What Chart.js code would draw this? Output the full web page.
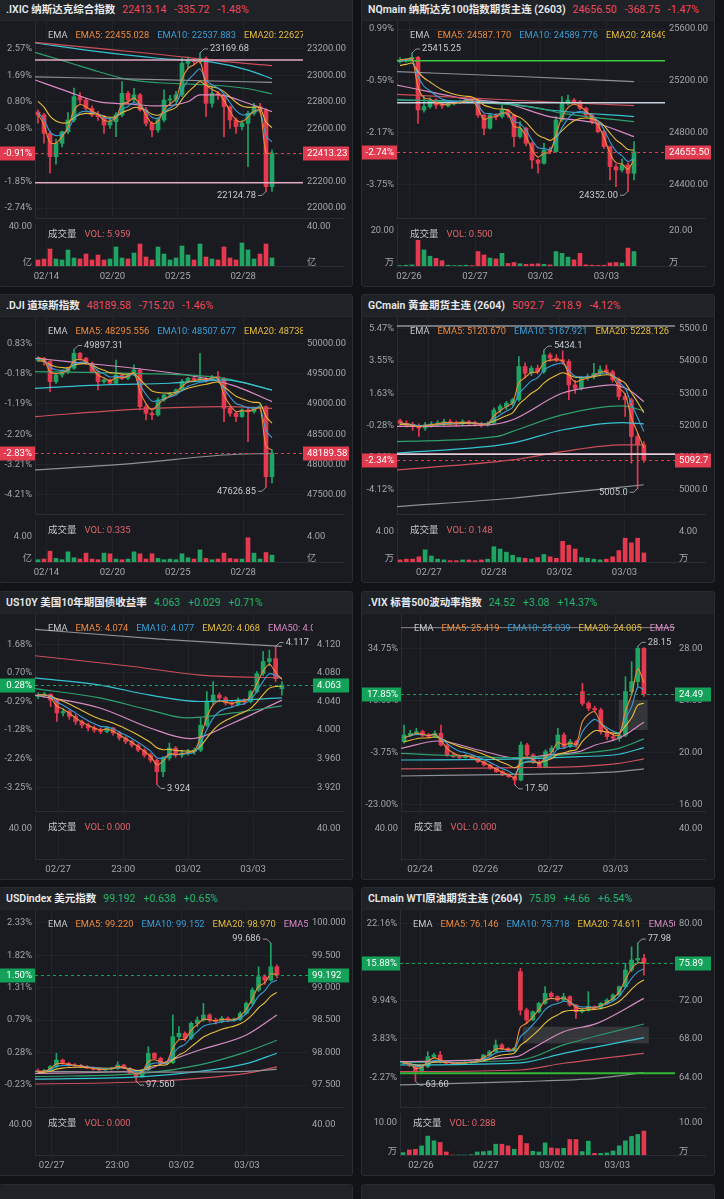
<!DOCTYPE html>
<html lang="zh">
<head>
<meta charset="utf-8">
<title>行情面板</title>
<script src="https://cdn.jsdelivr.net/npm/chart.js@4.4.1/dist/chart.umd.min.js"></script>
<style>
  html, body { margin:0; padding:0; }
  body { width:724px; height:1199px; overflow:hidden; background:#111317; position:relative;
         font-family: Roboto, "Noto Sans CJK SC", "Noto Sans", sans-serif; }
  .panel { position:absolute; width:354px; height:289px; box-sizing:border-box; border:1px solid #292c33;
           border-radius:3px; background:#191b20; overflow:hidden; }
  .hdr { position:absolute; left:0; top:0; width:100%; height:22px; background:#1f2227; border-bottom:1px solid #24272d;
         box-sizing:border-box; padding-left:6px; font-size:10.5px; line-height:21px; white-space:nowrap; color:#e8eaed; }
  .hdr .nm { font-weight:600; margin-right:7px; }
  .hdr .v { margin-right:8px; }
  .leg { position:absolute; top:29px; height:13px; font-size:9.3px; line-height:13px; white-space:nowrap; overflow:hidden; z-index:2; }
  .leg span { margin-right:8px; }
  .vol { position:absolute; top:228px; font-size:9.5px; line-height:13px; white-space:nowrap; z-index:2; }
  .vol span { margin-right:8px; }
  canvas { position:absolute; left:0; }
</style>
</head>
<body>
<script>
// ======================= DATA =======================
// ---- .IXIC ----
const ixicOpen  = [22725,22702,22563,22387,22488,22576,22664,22840,22815,22752,22702,22689,22626,22651,22702,22865,22815,22853,22740,22639,22589,22664,22815,22820,22853,23092,23117,23104,23130,22790,22865,22853,22765,22664,22614,22639,22714,22765,22740,22161];
const ixicHigh  = [22740,22714,22580,22520,22580,22720,22905,22870,22830,22770,22730,22700,22680,22720,22953,22880,22903,22865,22760,22650,22680,22891,22850,22880,23130,23140,23130,23169.68,23140,22916,22880,22860,22770,22680,22660,22730,22790,22790,22750,22438];
const ixicLow   = [22640,22490,22262,22330,22460,22560,22650,22790,22740,22690,22660,22563,22600,22538,22690,22790,22800,22730,22620,22538,22570,22650,22780,22800,22840,23050,23080,23090,22689,22760,22820,22538,22600,22563,22590,22312,22700,22720,22124.78,22125];
const ixicClose = [22702,22563,22387,22488,22576,22664,22840,22815,22752,22702,22689,22626,22651,22702,22865,22815,22853,22740,22639,22589,22664,22815,22820,22853,23092,23117,23104,23130,22790,22865,22853,22765,22664,22614,22639,22714,22765,22740,22161,22413.23];
const ixicVol   = [7,8,18,8,7,17,9,8,13,7,12,7,8,20,9,8,14,23,10,7,20,13,7,9,21,12,7,23,10,8,7,20,9,7,24,17,8,13,23,9];
const ixicDates = ['02/14','02/20','02/25','02/28'];
const ixicDatePos = [1.4,12.4,23.3,34.2];
const ixicPriceTicks = [22000,22200,22400,22600,22800,23000,23200];
const ixicPctTicks = ['-2.74%','-1.85%','-0.97%','-0.08%','0.80%','1.69%','2.57%'];
const ixicEmaStart = [22714,22727,22828];
const ixicPinkLine  = [[-0.5,22966],[5,22878],[10,22802],[15,22785],[20,22770],[25,22802],[27,22853],[30,22853],[35,22790],[39,22727]];
const ixicGreenLine = [[-0.5,23175],[5,23100],[10,23030],[15,22970],[20,22945],[28,22930],[35,22900],[39,22860]];
const ixicCyanLine  = [[-0.5,23245],[10,23180],[20,23130],[29,23100],[35,23040],[39,22975]];
const ixicRedLine   = [[-0.5,23250],[10,23205],[20,23160],[30,23110],[39,23075]];
const ixicGrayLine  = [[-0.5,22990],[20,22968],[39,22948]];
const ixicAlertLines = [23117,22191];

// ---- NQmain ----
const nqOpen  = [25349,25362,25367,25382,24977,25003,25054,25015,25008,25023,25033,25041,25059,25054,24938,24836,24938,24926,24977,24938,24772,24836,24721,24592,24567,24669,24656,24900,25028,25054,25041,24990,24938,24887,24810,24695,24541,24515,24554,24490];
const nqHigh  = [25380,25375,25415.25,25390,25080,25070,25065,25030,25035,25040,25050,25070,25065,25060,24945,24945,24950,25015,24985,24945,24887,24845,24730,24600,24721,24690,24926,25080,25092,25065,25050,25000,24950,24895,24820,24700,24560,24600,24570,24733];
const nqLow   = [25340,25345,25355,24874,24960,24990,24990,24990,25000,25015,25025,25035,25040,24920,24785,24830,24900,24915,24920,24695,24760,24700,24528,24490,24560,24640,24650,24890,25015,25030,24980,24920,24870,24800,24680,24438,24387,24500,24352,24438];
const nqClose = [25362,25367,25382,24977,25003,25054,25015,25008,25023,25033,25041,25059,25054,24938,24836,24938,24926,24977,24938,24772,24836,24721,24592,24567,24669,24656,24900,25028,25054,25041,24990,24938,24887,24810,24695,24541,24515,24554,24490,24655.5];
const nqVol   = [0.8,1.0,1.2,14.9,9.5,6.0,4.8,3.5,1.0,0.8,0.9,1.0,0.8,8.6,6.7,5.0,4.5,7.6,2.0,2.5,1.8,1.5,1.6,1.8,1.5,1.2,8.6,7.6,5.5,4.0,7.6,1.2,1.0,0.9,1.0,2.3,2.5,2.2,10.5,8.6];
const nqDates = ['02/26','02/27','03/02','03/03'];
const nqDatePos = [1.5,12.5,23.4,34.4];
const nqPriceTicks = [24400,24800,25200,25600];
const nqPctTicks = ['-3.75%','-2.17%','-0.59%','0.99%'];
const nqEmaStart = [25367,25349,25310];
const nqGrayLine  = [[-0.5,25272],[20,25235],[39,25195]];
const nqRedLine   = [[-0.5,25097],[20,25050],[39,25010]];
const nqPinkLine  = [[-0.5,25169],[4.8,25118],[10.4,25067],[17.7,25028],[24.9,24926],[32.7,24875],[39,24772]];
const nqCyanLine  = [[-0.5,25054],[17.7,25028],[24.9,24977],[39,24926]];
const nqGreenLine = [[-0.5,25059],[21.6,25003],[27.2,24951],[39,24887]];
const nqAlertLines = [25356,25033];

// ---- .DJI ----
const djiOpen  = [49720,49753,49698,49368,49478,49533,49588,49835,49753,49670,49533,49368,49396,49341,49478,49423,49478,49560,48956,48846,48819,49066,49148,49176,49231,49368,49423,49396,49423,49396,49451,49423,48928,48846,48791,48901,48874,48928,48956,47802];
const djiHigh  = [49780,49770,49710,49500,49540,49600,49897.31,49850,49770,49690,49550,49420,49410,49725,49500,49500,49643,49580,48990,48880,49100,49160,49190,49250,49400,49440,49450,49835,49440,49470,49533,49440,48960,48880,48920,48930,48950,48990,48970,48242];
const djiLow   = [49700,49640,49203,49340,49440,49500,49570,49720,49650,49510,49231,49340,49320,49330,49400,49400,49460,48901,48736,48740,48800,49040,49120,49150,49210,49350,49370,49380,49360,49380,49410,48709,48800,48709,48780,48379,48850,48920,47626.85,47700];
const djiClose = [49753,49698,49368,49478,49533,49588,49835,49753,49670,49533,49368,49396,49341,49478,49423,49478,49560,48956,48846,48819,49066,49148,49176,49231,49368,49423,49396,49423,49396,49451,49423,48928,48846,48791,48901,48874,48928,48956,47802,48189.58];
const djiVol   = [0.5,0.6,1.8,0.7,0.5,1.7,0.8,0.6,1.5,0.6,0.5,1.5,1.4,0.6,0.5,0.6,1.7,1.4,0.6,1.4,0.7,0.5,0.6,0.5,1.4,0.8,0.6,2.0,0.7,0.5,0.6,1.5,0.7,0.6,0.6,3.85,1.5,0.6,1.6,1.2];
const djiDates = ['02/14','02/20','02/25','02/28'];
const djiDatePos = [1.4,12.4,23.3,34.2];
const djiPriceTicks = [47500,48000,48500,49000,49500,50000];
const djiPctTicks = ['-4.21%','-3.21%','-2.20%','-1.19%','-0.18%','0.83%'];
const djiEmaStart = [49780,49725,49698];
const djiPinkLine  = [[-0.5,49753],[5,49698],[16,49588],[27,49440],[33,49290],[39,49038]];
const djiGreenLine = [[-0.5,49533],[16,49505],[31,49423],[39,49231]];
const djiCyanLine  = [[-0.5,49258],[11,49313],[22,49341],[31,49396],[39,49231]];
const djiRedLine   = [[-0.5,48791],[16,48912],[31,48956],[39,48928]];
const djiGrayLine  = [[-0.5,47912],[16,48022],[31,48159],[39,48187]];

// ---- GCmain ----
const gcOpen  = [5215,5207,5202,5197,5192,5202,5205,5207,5212,5209,5207,5212,5209,5205,5202,5207,5248,5259,5269,5280,5383,5362,5378,5367,5419,5409,5404,5399,5326,5316,5347,5352,5362,5373,5367,5342,5290,5280,5166,5140];
const gcHigh  = [5220,5215,5210,5205,5210,5212,5215,5220,5218,5214,5218,5216,5214,5210,5212,5255,5265,5275,5285,5414,5395,5385,5388,5434.1,5425,5420,5432,5405,5340,5350,5360,5393,5385,5388,5372,5348,5300,5285,5175,5150];
const gcLow   = [5200,5195,5185,5166,5185,5195,5198,5200,5202,5198,5202,5203,5198,5195,5198,5204,5240,5250,5262,5275,5350,5355,5360,5362,5400,5398,5390,5280,5300,5310,5340,5345,5355,5360,5335,5280,5228,5083,5005.0,5085];
const gcClose = [5207,5202,5197,5192,5202,5205,5207,5212,5209,5207,5212,5209,5205,5202,5207,5248,5259,5269,5280,5383,5362,5378,5367,5419,5409,5404,5399,5326,5316,5347,5352,5362,5373,5367,5342,5290,5280,5166,5140,5092.7];
const gcVol   = [0.4,0.5,0.5,0.8,1.7,0.9,0.5,0.4,0.3,0.3,0.4,0.4,0.3,0.4,0.5,2.1,1.8,1.4,1.0,0.7,0.6,0.5,0.7,1.1,0.8,0.6,2.8,2.3,1.8,0.7,0.6,0.5,0.4,0.5,0.8,1.6,3.2,2.6,3.2,1.3];
const gcDates = ['02/27','02/28','03/02','03/03'];
const gcDatePos = [4.6,15.0,25.5,35.9];
const gcPriceTicks = [5000,5100,5200,5300,5400,5500];
const gcPctTicks = ['-4.12%','-2.20%','-0.28%','1.63%','3.55%','5.47%'];
const gcEmaStart = [5212,5207,5202];
const gcPinkLine  = [[-0.5,5197],[14.2,5202],[17.9,5217],[25.9,5300],[31.2,5321],[33.9,5326],[36.6,5310],[39,5274]];
const gcGreenLine = [[-0.5,5150],[15.6,5166],[17.9,5181],[25.9,5233],[35.5,5261],[39,5246]];
const gcCyanLine  = [[-0.5,5114],[17.9,5145],[25.9,5186],[35.5,5209],[39,5205]];
const gcRedLine   = [[-0.5,5062],[17.9,5093],[25.9,5119],[35.5,5140],[39,5140]];
const gcGrayLine  = [[-0.5,4948],[17.9,4974],[25.9,4990],[39,5016]];
const gcAlertLines = [5509,5111];

// ---- US10Y ----
const usyOpen  = [4.047,4.049,4.050,4.042,4.024,4.026,4.019,4.012,4.007,4.003,4.000,3.998,4.003,3.996,3.989,3.984,3.979,3.972,3.965,3.958,3.942,3.961,3.975,3.965,3.968,3.970,3.972,4.007,4.040,4.049,4.045,4.038,4.036,4.042,4.040,4.054,4.079,4.096,4.100,4.058];
const usyHigh  = [4.052,4.053,4.051,4.044,4.030,4.028,4.022,4.014,4.010,4.006,4.003,4.005,4.004,3.998,3.991,3.986,3.981,3.974,3.968,3.960,3.963,3.982,3.977,3.972,3.973,3.975,4.017,4.054,4.068,4.052,4.047,4.040,4.045,4.044,4.056,4.082,4.110,4.112,4.117,4.068];
const usyLow   = [4.044,4.046,4.033,4.012,4.020,4.015,4.008,4.003,3.999,3.997,3.995,3.996,3.993,3.986,3.981,3.976,3.970,3.962,3.955,3.924,3.935,3.958,3.962,3.962,3.965,3.966,3.970,4.005,4.036,4.040,4.035,4.032,4.034,4.036,4.038,4.052,4.076,4.090,4.068,4.049];
const usyClose = [4.049,4.050,4.042,4.024,4.026,4.019,4.012,4.007,4.003,4.000,3.998,4.003,3.996,3.989,3.984,3.979,3.972,3.965,3.958,3.942,3.961,3.975,3.965,3.968,3.970,3.972,4.007,4.040,4.049,4.045,4.038,4.036,4.042,4.040,4.054,4.079,4.096,4.100,4.072,4.063];
const usyVol   = [];
const usyDates = ['02/27','23:00','03/02','03/03'];
const usyDatePos = [3.2,13.6,24.0,34.4];
const usyPriceTicks = [3.92,3.96,4.00,4.04,4.08,4.12];
const usyPctTicks = ['-3.25%','-2.26%','-1.28%','-0.29%','0.70%','1.68%'];
const usyEmaStart = [4.049,4.049,4.049];
const usyGrayLine  = [[-0.5,4.141],[20,4.127],[39,4.117]];
const usyRedLine   = [[-0.5,4.104],[15.2,4.089],[25.9,4.077],[39,4.073]];
const usyCyanLine  = [[-0.5,4.073],[9.9,4.063],[17.9,4.049],[25.9,4.040],[39,4.045]];
const usyGreenLine = [[-0.5,4.058],[9.9,4.045],[17.9,4.028],[23.8,4.017],[31.2,4.024],[39,4.034]];
const usyPinkLine  = [[-0.5,4.049],[9.9,4.031],[17.9,4.003],[24.3,3.988],[31.2,4.010],[39,4.042]];

// ---- .VIX ----
const vixOpen  = [20.82,21.33,21.46,21.59,21.33,21.21,21.46,20.56,19.80,19.67,19.59,19.74,19.54,19.28,19.03,18.77,18.51,18.26,18.13,17.87,20.56,19.80,19.28,18.90,20.05,20.31,21.33,20.44,20.82,24.67,23.77,23.38,23.26,21.59,21.21,21.08,21.33,24.67,25.44,28.00];
const vixHigh  = [22.10,21.70,21.85,21.70,21.45,21.65,22.10,20.65,19.95,19.80,19.85,19.80,19.60,19.35,19.10,18.85,18.60,18.35,18.20,20.80,20.70,19.90,19.40,20.20,20.50,21.85,21.50,21.00,20.95,25.31,23.90,23.55,23.40,21.80,21.40,21.50,25.82,26.97,28.15,28.05];
const vixLow   = [20.70,21.20,21.35,21.20,21.10,21.15,20.50,19.70,19.60,19.50,19.55,19.45,19.20,18.95,18.70,18.45,18.20,18.05,17.50,17.80,19.70,19.15,18.80,18.85,19.90,20.20,20.30,20.35,20.40,23.60,23.20,23.10,21.40,21.00,20.90,20.85,21.20,24.40,25.05,24.30];
const vixClose = [21.33,21.46,21.59,21.33,21.21,21.46,20.56,19.80,19.67,19.59,19.74,19.54,19.28,19.03,18.77,18.51,18.26,18.13,17.87,20.56,19.80,19.28,18.90,20.05,20.31,21.33,20.44,20.82,20.56,23.77,23.38,23.26,21.59,21.21,21.08,21.33,24.67,25.44,28.00,24.49];
const vixVol   = [];
const vixDates = ['02/24','02/26','02/27','03/03'];
const vixDatePos = [2.6,13.2,23.8,34.4];
const vixPriceTicks = [16,20,24,28];
const vixPctTicks = ['-23.00%','-3.75%','15.50%','34.75%'];
const vixEmaStart = [20.82,21.08,20.69];
const vixPinkLine  = [[-0.5,20.31],[5.6,20.87],[12.1,20.18],[18.6,19.54],[23.5,19.80],[28.4,20.05],[31.1,20.56],[34.9,21.08],[39,22.31]];
const vixGreenLine = [[-0.5,19.92],[18.6,19.59],[28.4,19.92],[34.9,20.31],[39,21.03]];
const vixCyanLine  = [[-0.5,19.41],[18.6,19.49],[28.4,19.67],[34.9,19.85],[39,20.36]];
const vixRedLine   = [[-0.5,18.72],[18.6,18.82],[28.4,18.90],[34.9,19.15],[39,19.49]];
const vixGrayLine  = [[-0.5,18.18],[18.6,18.31],[28.4,18.38],[34.9,18.51],[39,18.72]];
const vixAlertLines = [29.59];
const vixZones = [[34.9,39.6,21.72,24.03]];

// ---- USDindex ----
const usdOpen  = [97.720,97.706,97.721,97.783,97.885,97.834,97.808,97.793,97.783,97.757,97.742,97.731,97.747,97.757,97.808,97.757,97.680,97.629,97.731,97.988,97.911,97.834,97.844,98.245,98.296,98.219,98.450,98.501,98.578,98.501,98.476,98.527,98.501,98.511,98.604,98.758,98.963,99.168,99.117,99.322];
const usdHigh  = [97.750,97.740,97.800,97.990,97.900,97.850,97.830,97.820,97.800,97.780,97.760,97.760,97.770,97.860,97.820,97.770,97.700,97.740,98.090,98.000,97.930,97.860,98.580,98.400,98.320,98.470,98.550,98.758,98.600,98.530,98.560,98.550,98.530,98.630,98.780,99.000,99.322,99.200,99.686,99.350];
const usdLow   = [97.690,97.690,97.710,97.770,97.820,97.790,97.780,97.770,97.750,97.730,97.720,97.720,97.730,97.740,97.750,97.670,97.560,97.620,97.720,97.900,97.830,97.820,97.830,98.200,98.180,98.200,98.400,98.480,98.470,98.440,98.460,98.480,98.480,98.490,98.590,98.740,98.940,99.050,99.100,99.150];
const usdClose = [97.706,97.721,97.783,97.885,97.834,97.808,97.793,97.783,97.757,97.742,97.731,97.747,97.757,97.808,97.757,97.680,97.629,97.731,97.988,97.911,97.834,97.844,98.245,98.296,98.219,98.450,98.501,98.578,98.501,98.476,98.527,98.501,98.511,98.604,98.758,98.963,99.168,99.117,99.322,99.192];
const usdVol   = [];
const usdDates = ['02/27','23:00','03/02','03/03'];
const usdDatePos = [2.2,12.9,23.4,34.1];
const usdPriceTicks = [97.5,98.0,98.5,99.0,99.5,100.0];
const usdPctTicks = ['-0.23%','0.28%','0.79%','1.31%','1.82%','2.33%'];
const usdEmaStart = [97.706,97.706,97.69];
const usdPinkLine  = [[-0.5,97.680],[17.2,97.731],[21,97.860],[26.4,98.04],[34,98.27],[39,98.578]];
const usdGreenLine = [[-0.5,97.63],[17.2,97.68],[26.4,97.81],[34,98.01],[39,98.19]];
const usdCyanLine  = [[-0.5,97.59],[17.2,97.63],[26.4,97.71],[34,97.83],[39,97.99]];
const usdGrayLine  = [[-0.5,97.71],[17.2,97.70],[34,97.71],[39,97.74]];
const usdRedLine   = [[-0.5,97.516],[17.2,97.55],[34,97.68],[39,97.78]];

// ---- CLmain ----
const clOpen  = [65.50,65.53,65.28,64.59,65.11,66.15,66.32,65.63,65.46,65.39,65.46,65.53,65.63,65.80,66.32,66.67,67.37,67.02,66.78,75.00,71.01,69.97,70.84,71.70,72.75,72.40,72.05,72.40,71.53,70.84,71.01,71.36,71.18,71.70,72.05,72.57,73.44,75.18,76.22,76.39];
const clHigh  = [65.70,65.60,65.35,65.20,66.67,66.50,66.67,65.70,65.55,65.55,65.60,65.70,65.90,66.40,66.80,67.89,67.50,67.10,67.10,75.35,71.20,70.90,71.80,73.44,72.90,72.50,72.75,72.50,71.60,71.20,72.92,71.45,71.80,72.20,72.70,73.50,75.87,77.60,77.98,76.80];
const clLow   = [65.35,65.10,63.60,64.40,65.00,66.00,65.50,65.35,65.30,65.35,65.40,65.45,65.55,65.75,66.25,66.60,66.90,66.70,66.70,70.50,69.62,69.90,70.70,71.60,72.30,71.90,71.95,71.40,70.14,70.70,70.90,71.05,71.10,71.60,71.95,72.45,73.30,75.00,75.90,74.65];
const clClose = [65.53,65.28,64.59,65.11,66.15,66.32,65.63,65.46,65.39,65.46,65.53,65.63,65.80,66.32,66.67,67.37,67.02,66.78,67.02,71.01,69.97,70.84,71.70,72.75,72.40,72.05,72.40,71.53,70.84,71.01,71.36,71.18,71.70,72.05,72.57,73.44,75.18,76.22,76.39,75.89];
const clVol   = [1.0,1.8,2.0,3.0,5.9,4.5,4.0,1.2,0.3,0.3,0.3,0.4,1.2,1.3,1.5,3.5,3.5,3.0,2.0,6.1,3.7,1.4,1.2,3.9,2.4,2.2,2.3,4.9,4.9,1.3,4.4,0.8,0.8,0.9,1.5,3.0,4.5,5.8,6.4,7.4];
const clDates = ['02/26','02/27','03/02','03/03'];
const clDatePos = [2.9,13.4,24.1,34.7];
const clPriceTicks = [64,68,72,76,80];
const clPctTicks = ['-2.27%','3.83%','9.94%','16.05%','22.16%'];
const clEmaStart = [65.63,65.53,65.46];
const clGrayLine  = [[-0.5,63.20],[18.9,63.55],[31.4,63.89],[39,64.48]];
const clRedLine   = [[-0.5,64.59],[18.9,64.76],[26,65.46],[39,66.50]];
const clCyanLine  = [[-0.5,65.28],[18.9,65.50],[26,66.50],[39,68.13]];
const clGreenLine = [[-0.5,65.53],[18.9,65.80],[26,67.37],[39,69.55]];
const clPinkLine  = [[-0.5,65.63],[18.4,66.15],[20.5,66.84],[26,68.75],[31.4,69.62],[39,72.22]];
const clAlertLines = [64.42];
const clZones = [[19.4,39.8,67.54,69.27]];

// ======================= STYLE =======================
const UP = '#1fa463', DOWN = '#e5394f';
const UP_TXT = '#25b46b', DOWN_TXT = '#f0485c';
const UP_BOX = '#14a15a', DOWN_BOX = '#e23a4f';
const C_EMA5 = '#f08a3a', C_EMA10 = '#3a9fd8', C_EMA20 = '#e6bd3b';
const C_PINK = '#d88bc3', C_GREEN = '#2e9f6d', C_CYAN = '#35c3d3', C_RED = '#c94f5b', C_GRAY = '#8d9096';
const TICK = '#a1a6ae';
const COMPRESS = 2;
const TICK_FONT = { size: 9.3 };

Chart.defaults.font.family = 'Roboto, "Noto Sans CJK SC", sans-serif';
Chart.defaults.font.size = 9.3;
Chart.defaults.color = TICK;

const ROW_TOP = [-2, 294, 591, 887, 1184];
const COL_LEFT = [-1, 361];

function ema(closes, period, seed) {
  const a = 1 - Math.pow(1 - 2 / (period + 1), COMPRESS);
  let e = seed;
  return closes.map(c => (e = e + a * (c - e)));
}

const panels = [
  { col:0, row:0, name:'.IXIC 纳斯达克综合指数', quote:['22413.14','-335.72','-1.48%'], up:false,
    legend:[['EMA5: 22455.028',C_EMA5],['EMA10: 22537.883',C_EMA10],['EMA20: 22627.',C_EMA20]],
    volText:'VOL: 5.959', open:ixicOpen, high:ixicHigh, low:ixicLow, close:ixicClose, volume:ixicVol,
    dates:ixicDates, datePos:ixicDatePos, ticks:ixicPriceTicks, pct:ixicPctTicks, pctNow:'-0.91%', dec:2,
    emaStart:ixicEmaStart,
    lines:[[ixicGrayLine,C_GRAY],[ixicRedLine,C_RED],[ixicCyanLine,C_CYAN],[ixicGreenLine,C_GREEN],[ixicPinkLine,C_PINK]],
    alerts:ixicAlertLines, alertStyle:[['#e3a8c2',1.6],['#e3a8c2',1.6]], zones:[],
    lw:35, rw:49, min:21917, max:23411, volMax:43, volTop:40, volTopLabel:'40.00', volUnit:'亿' },
  { col:1, row:0, name:'NQmain 纳斯达克100指数期货主连 (2603)', quote:['24656.50','-368.75','-1.47%'], up:false,
    legend:[['EMA5: 24587.170',C_EMA5],['EMA10: 24589.776',C_EMA10],['EMA20: 24649.9',C_EMA20]],
    volText:'VOL: 0.500', open:nqOpen, high:nqHigh, low:nqLow, close:nqClose, volume:nqVol,
    dates:nqDates, datePos:nqDatePos, ticks:nqPriceTicks, pct:nqPctTicks, pctNow:'-2.74%', dec:2,
    emaStart:nqEmaStart,
    lines:[[nqGrayLine,C_GRAY],[nqRedLine,C_RED],[nqGreenLine,C_GREEN],[nqCyanLine,C_CYAN],[nqPinkLine,C_PINK]],
    alerts:nqAlertLines, alertStyle:[['#3fcb3f',1.5],['#c7d1dd',1.6]], zones:[],
    lw:35, rw:49, min:24138, max:25662, volMax:23.9, volTop:20, volTopLabel:'20.00', volUnit:'万' },
  { col:0, row:1, name:'.DJI 道琼斯指数', quote:['48189.58','-715.20','-1.46%'], up:false,
    legend:[['EMA5: 48295.556',C_EMA5],['EMA10: 48507.677',C_EMA10],['EMA20: 48738.0',C_EMA20]],
    volText:'VOL: 0.335', open:djiOpen, high:djiHigh, low:djiLow, close:djiClose, volume:djiVol,
    dates:djiDates, datePos:djiDatePos, ticks:djiPriceTicks, pct:djiPctTicks, pctNow:'-2.83%', dec:2,
    emaStart:djiEmaStart,
    lines:[[djiGrayLine,C_GRAY],[djiRedLine,C_RED],[djiCyanLine,C_CYAN],[djiGreenLine,C_GREEN],[djiPinkLine,C_PINK]],
    alerts:[], alertStyle:[], zones:[],
    lw:35, rw:49, min:47170, max:50433, volMax:6.54, volTop:4, volTopLabel:'4.00', volUnit:'亿' },
  { col:1, row:1, name:'GCmain 黄金期货主连 (2604)', quote:['5092.7','-218.9','-4.12%'], up:false,
    legend:[['EMA5: 5120.670',C_EMA5],['EMA10: 5167.921',C_EMA10],['EMA20: 5228.126',C_EMA20],['E',C_PINK]],
    volText:'VOL: 0.148', open:gcOpen, high:gcHigh, low:gcLow, close:gcClose, volume:gcVol,
    dates:gcDates, datePos:gcDatePos, ticks:gcPriceTicks, pct:gcPctTicks, pctNow:'-2.34%', dec:1,
    emaStart:gcEmaStart,
    lines:[[gcGrayLine,C_GRAY],[gcRedLine,C_RED],[gcCyanLine,C_CYAN],[gcGreenLine,C_GREEN],[gcPinkLine,C_PINK]],
    alerts:gcAlertLines, alertStyle:[['#cfd1d6',1.2],['#e6cbd8',1.6]], zones:[],
    lw:35, rw:39, min:4922, max:5537, volMax:5.55, volTop:4, volTopLabel:'4.00', volUnit:'万' },
  { col:0, row:2, name:'US10Y 美国10年期国债收益率', quote:['4.063','+0.029','+0.71%'], up:true,
    legend:[['EMA5: 4.074',C_EMA5],['EMA10: 4.077',C_EMA10],['EMA20: 4.068',C_EMA20],['EMA50: 4.04',C_PINK]],
    volText:'VOL: 0.000', open:usyOpen, high:usyHigh, low:usyLow, close:usyClose, volume:usyVol,
    dates:usyDates, datePos:usyDatePos, ticks:usyPriceTicks, pct:usyPctTicks, pctNow:'0.28%', dec:3,
    emaStart:usyEmaStart,
    lines:[[usyGrayLine,C_GRAY],[usyRedLine,C_RED],[usyCyanLine,C_CYAN],[usyGreenLine,C_GREEN],[usyPinkLine,C_PINK]],
    alerts:[], alertStyle:[], zones:[],
    lw:35, rw:39, min:3.8855, max:4.1624, volMax:55.5, volTop:40, volTopLabel:'40.00', volUnit:'' },
  { col:1, row:2, name:'.VIX 标普500波动率指数', quote:['24.52','+3.08','+14.37%'], up:true,
    legend:[['EMA5: 25.419',C_EMA5],['EMA10: 25.039',C_EMA10],['EMA20: 24.005',C_EMA20],['EMA50:',C_PINK]],
    volText:'VOL: 0.000', open:vixOpen, high:vixHigh, low:vixLow, close:vixClose, volume:vixVol,
    dates:vixDates, datePos:vixDatePos, ticks:vixPriceTicks, pct:vixPctTicks, pctNow:'17.85%', dec:2,
    emaStart:vixEmaStart,
    lines:[[vixGrayLine,C_GRAY],[vixRedLine,C_RED],[vixCyanLine,C_CYAN],[vixGreenLine,C_GREEN],[vixPinkLine,C_PINK]],
    alerts:vixAlertLines, alertStyle:[['#8f8a86',1]], zones:vixZones,
    lw:39, rw:39, min:15.41, max:30.64, volMax:55.5, volTop:40, volTopLabel:'40.00', volUnit:'' },
  { col:0, row:3, name:'USDindex 美元指数', quote:['99.192','+0.638','+0.65%'], up:true,
    legend:[['EMA5: 99.220',C_EMA5],['EMA10: 99.152',C_EMA10],['EMA20: 98.970',C_EMA20],['EMA50',C_PINK]],
    volText:'VOL: 0.000', open:usdOpen, high:usdHigh, low:usdLow, close:usdClose, volume:usdVol,
    dates:usdDates, datePos:usdDatePos, ticks:usdPriceTicks, pct:usdPctTicks, pctNow:'1.50%', dec:3,
    emaStart:usdEmaStart,
    lines:[[usdGrayLine,C_GRAY],[usdRedLine,C_RED],[usdCyanLine,C_CYAN],[usdGreenLine,C_GREEN],[usdPinkLine,C_PINK]],
    alerts:[], alertStyle:[], zones:[],
    lw:35, rw:44, min:97.146, max:100.196, volMax:55.5, volTop:40, volTopLabel:'40.00', volUnit:'' },
  { col:1, row:3, name:'CLmain WTI原油期货主连 (2604)', quote:['75.89','+4.66','+6.54%'], up:true,
    legend:[['EMA5: 76.146',C_EMA5],['EMA10: 75.718',C_EMA10],['EMA20: 74.611',C_EMA20],['EMA50:',C_PINK]],
    volText:'VOL: 0.288', open:clOpen, high:clHigh, low:clLow, close:clClose, volume:clVol,
    dates:clDates, datePos:clDatePos, ticks:clPriceTicks, pct:clPctTicks, pctNow:'15.88%', dec:2,
    emaStart:clEmaStart,
    lines:[[clGrayLine,C_GRAY],[clRedLine,C_RED],[clCyanLine,C_CYAN],[clGreenLine,C_GREEN],[clPinkLine,C_PINK]],
    alerts:clAlertLines, alertStyle:[['#33b833',2]], zones:clZones,
    lw:38, rw:39, min:60.80, max:81.43, volMax:12.76, volTop:10, volTopLabel:'10.00', volUnit:'万' },
  { col:0, row:4, name:'', quote:[], up:false },
  { col:1, row:4, name:'', quote:[], up:false }
];

function pricePlugin(p) {
  return {
    id: 'priceMarks',
    beforeDatasetsDraw(chart) {
      const { ctx, chartArea: a, scales: { x, y } } = chart;
      ctx.save();
      ctx.beginPath(); ctx.rect(a.left, a.top, a.right - a.left, a.bottom - a.top); ctx.clip();
      p.zones.forEach(([x0, x1, lo, hi]) => {
        const px0 = x.getPixelForValue(x0), px1 = x.getPixelForValue(x1);
        const py0 = y.getPixelForValue(hi), py1 = y.getPixelForValue(lo);
        ctx.fillStyle = 'rgba(150,150,150,0.22)';
        ctx.fillRect(px0, py0, px1 - px0, py1 - py0);
      });
      ctx.restore();
    },
    afterDraw(chart) {
      const { ctx, chartArea: a, scales: { x, y } } = chart;
      const N = p.close.length;
      ctx.save();
      ctx.strokeStyle = '#2a2d34'; ctx.lineWidth = 1;
      ctx.beginPath(); ctx.moveTo(a.left, a.bottom - 0.5); ctx.lineTo(chart.width - 8, a.bottom - 0.5); ctx.stroke();
      let hi = -Infinity, hiI = 0, lo = Infinity, loI = 0;
      p.high.forEach((v, i) => { if (v > hi) { hi = v; hiI = i; } });
      p.low.forEach((v, i) => { if (v < lo) { lo = v; loI = i; } });
      ctx.font = '9.3px Roboto, sans-serif';
      ctx.textBaseline = 'middle';
      const tag = (i, v, upward) => {
        const px = x.getPixelForValue(i), py = y.getPixelForValue(v);
        const txt = v.toFixed(p.dec);
        const tw = ctx.measureText(txt).width;
        const right = px + 11 + tw < a.right;
        const dir = right ? 1 : -1, dy = upward ? -4 : 4;
        ctx.strokeStyle = '#b5b9c0'; ctx.lineWidth = 0.8;
        ctx.beginPath(); ctx.moveTo(px, py); ctx.lineTo(px + dir * 4, py + dy); ctx.lineTo(px + dir * 8, py + dy); ctx.stroke();
        ctx.fillStyle = '#c6cad0'; ctx.textAlign = right ? 'left' : 'right';
        ctx.fillText(txt, px + dir * 10, py + dy);
      };
      tag(hiI, hi, true); tag(loI, lo, false);
      const last = p.close[N - 1];
      const py = Math.round(y.getPixelForValue(last)) + 0.5;
      const col = p.up ? UP_BOX : DOWN_BOX;
      ctx.strokeStyle = col; ctx.lineWidth = 1; ctx.setLineDash([3, 3]);
      ctx.beginPath(); ctx.moveTo(a.left, py); ctx.lineTo(a.right, py); ctx.stroke();
      ctx.setLineDash([]);
      ctx.fillStyle = col;
      ctx.fillRect(0, py - 7, a.left, 14);
      ctx.fillRect(a.right, py - 7, p.rw - 3, 14);
      ctx.fillStyle = '#ffffff'; ctx.font = '9.6px Roboto, sans-serif';
      ctx.textAlign = 'right'; ctx.fillText(p.pctNow, a.left - 3, py);
      ctx.textAlign = 'left'; ctx.fillText(last.toFixed(p.dec), a.right + 4, py);
      ctx.restore();
    }
  };
}

const volPlugin = {
  id: 'volMarks',
  afterDraw(chart) {
    const { ctx, chartArea: a } = chart;
    ctx.save();
    ctx.strokeStyle = '#2a2d34'; ctx.lineWidth = 1;
    ctx.beginPath(); ctx.moveTo(a.left, a.bottom - 0.5); ctx.lineTo(chart.width - 8, a.bottom - 0.5); ctx.stroke();
    ctx.restore();
  }
};

function noPad(s) { s.paddingTop = 0; s.paddingBottom = 0; s.paddingLeft = 0; s.paddingRight = 0; }

function makePanel(p) {
  const box = document.createElement('div');
  box.className = 'panel';
  box.style.left = COL_LEFT[p.col] + 'px';
  box.style.top = ROW_TOP[p.row] + 'px';
  document.body.appendChild(box);
  const hdr = document.createElement('div');
  hdr.className = 'hdr';
  const tc = p.up ? UP_TXT : DOWN_TXT;
  hdr.innerHTML = (p.name ? `<span class="nm">${p.name}</span>` : '') +
    p.quote.map(q => `<span class="v" style="color:${tc}">${q}</span>`).join('');
  box.appendChild(hdr);
  if (!p.open) return;

  const W = 352;
  const N = p.close.length;
  const plotW = W - p.lw - p.rw;
  const per = (plotW - 28) / N;
  const xmin = -0.5, xmax = N - 0.5 + 28 / per;
  const bodyW = Math.max(2, Math.round(per * 0.62));
  const colors = p.close.map((c, i) => (c >= p.open[i] ? UP : DOWN));

  const leg = document.createElement('div');
  leg.className = 'leg';
  leg.style.left = (p.lw + 13) + 'px';
  leg.style.width = (W - p.rw - p.lw - 13) + 'px';
  leg.innerHTML = '<span style="color:#c3c7ce">EMA</span>' + p.legend.map(([t, c]) => `<span style="color:${c}">${t}</span>`).join('');
  box.appendChild(leg);

  const vl = document.createElement('div');
  vl.className = 'vol';
  vl.style.left = (p.lw + 13) + 'px';
  vl.innerHTML = `<span style="color:#c3c7ce">成交量</span><span style="color:#e0636b">${p.volText}</span>`;
  box.appendChild(vl);

  const cv = document.createElement('canvas');
  cv.width = W; cv.height = 198; cv.style.top = '22px';
  box.appendChild(cv);

  const ds = [];
  ds.push({ type:'bar', data: p.low.map((l, i) => ({ x:i, y:[l, p.high[i]] })), backgroundColor: colors,
            barThickness: 1, grouped: false, order: 6 });
  ds.push({ type:'bar', data: p.open.map((o, i) => ({ x:i, y:[o, p.close[i]] })), backgroundColor: colors,
            barThickness: bodyW, grouped: false, minBarLength: 1, order: 5 });
  p.lines.forEach(([pts, c]) => ds.push({ type:'line', data: pts.map(([xx, yy]) => ({ x:xx, y:yy })),
            borderColor: c, borderWidth: 1.2, pointRadius: 0, tension: 0.4, cubicInterpolationMode: 'monotone', order: 4 }));
  p.alerts.forEach((v, i) => ds.push({ type:'line', data: [{ x:xmin, y:v }, { x:xmax, y:v }],
            borderColor: p.alertStyle[i][0], borderWidth: p.alertStyle[i][1], pointRadius: 0, order: 3 }));
  [[20, p.emaStart[2], C_EMA20], [10, p.emaStart[1], C_EMA10], [5, p.emaStart[0], C_EMA5]].forEach(([n, seed, c], k) => {
    const e = ema(p.close, n, seed);
    ds.push({ type:'line', data: e.map((v, i) => ({ x:i, y:v })), borderColor: c, borderWidth: 1.1,
              pointRadius: 0, tension: 0.3, order: 2 - k });
  });

  const yTicks = s => { s.ticks = p.ticks.map(v => ({ value: v })); };
  const xTicks = s => { s.ticks = p.datePos.map(v => ({ value: v })); };

  new Chart(cv, {
    type: 'bar',
    data: { datasets: ds },
    options: {
      responsive: false, animation: false, events: [], devicePixelRatio: 1,
      layout: { padding: 0 },
      plugins: { legend: { display: false }, tooltip: { enabled: false } },
      scales: {
        x: { type:'linear', min:xmin, max:xmax, offset:false, afterBuildTicks: xTicks,
             ticks: { display:false }, grid: { color:'rgba(255,255,255,0.035)', drawTicks:false, offset:false },
             border: { display:false }, afterFit: s => { s.height = 0; noPad(s); } },
        y: { type:'linear', position:'right', min:p.min, max:p.max, afterBuildTicks: yTicks,
             afterFit: s => { s.width = p.rw; noPad(s); },
             ticks: { padding:4, color:TICK, font:TICK_FONT, autoSkip:false, callback: v => Number(v).toFixed(p.dec) },
             grid: { color:'rgba(255,255,255,0.04)', drawTicks:false }, border: { display:false } },
        yl: { type:'linear', position:'left', min:p.min, max:p.max, afterBuildTicks: yTicks,
              afterFit: s => { s.width = p.lw; noPad(s); },
              ticks: { padding:3, color:TICK, font:TICK_FONT, autoSkip:false, callback: (v, i) => p.pct[i] },
              grid: { display:false, drawTicks:false }, border: { display:true, color:'#2a2d34' } }
      }
    },
    plugins: [pricePlugin(p)]
  });

  const vc = document.createElement('canvas');
  vc.width = W; vc.height = 67; vc.style.top = '220px';
  box.appendChild(vc);
  const vTicks = s => { s.ticks = [{ value: p.volMax * 0.11 }, { value: p.volTop }]; };
  const vLabel = (v, i) => (i === 0 ? p.volUnit : p.volTopLabel);
  new Chart(vc, {
    type: 'bar',
    data: { datasets: [{ data: p.volume.map((v, i) => ({ x:i, y:v })), backgroundColor: colors,
                         barThickness: bodyW, grouped: false }] },
    options: {
      responsive: false, animation: false, events: [], devicePixelRatio: 1,
      layout: { padding: { top: 5 } },
      plugins: { legend: { display:false }, tooltip: { enabled:false } },
      scales: {
        x: { type:'linear', min:xmin, max:xmax, offset:false, afterBuildTicks: xTicks,
             ticks: { padding:4, color:TICK, font:{ size:9.6 }, maxRotation:0, autoSkip:false, callback: (v, i) => p.dates[i] },
             grid: { color:'rgba(255,255,255,0.035)', drawTicks:false, offset:false },
             border: { display:false }, afterFit: s => { s.height = 19; noPad(s); } },
        y: { type:'linear', position:'right', min:0, max:p.volMax, afterBuildTicks: vTicks,
             afterFit: s => { s.width = p.rw; noPad(s); },
             ticks: { padding:4, color:TICK, font:TICK_FONT, autoSkip:false, callback: vLabel },
             grid: { display:false, drawTicks:false }, border: { display:false } },
        yl: { type:'linear', position:'left', min:0, max:p.volMax, afterBuildTicks: vTicks,
              afterFit: s => { s.width = p.lw; noPad(s); },
              ticks: { padding:3, color:TICK, font:TICK_FONT, autoSkip:false, callback: vLabel },
              grid: { display:false, drawTicks:false }, border: { display:true, color:'#2a2d34' } }
      }
    },
    plugins: [volPlugin]
  });
}

panels.forEach(makePanel);
</script>
</body>
</html>
